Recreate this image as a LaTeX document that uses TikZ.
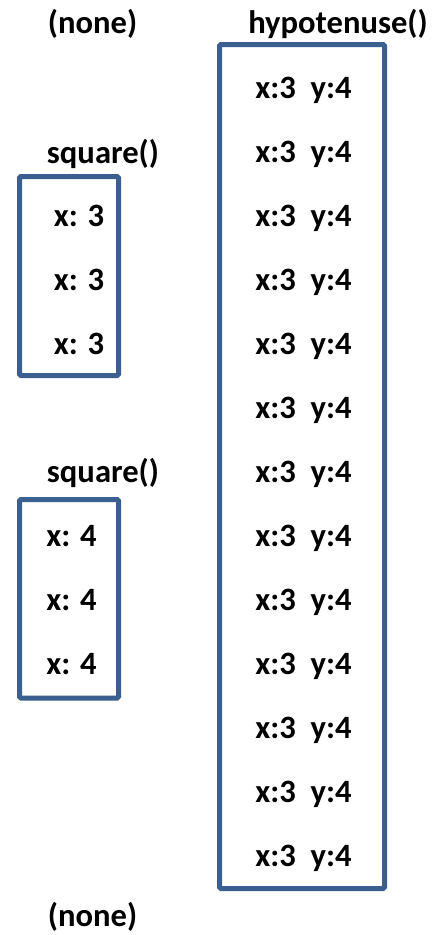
\documentclass[tikz,border=0pt]{standalone}
\usepackage{fontspec}
\setmainfont{Carlito}
\usepackage{xcolor}
\usetikzlibrary{positioning}
\definecolor{FrameBlue}{HTML}{3B5F8E}

\begin{document}
\begin{tikzpicture}[
  x=1pt,
  y=-1pt,
  every node/.style={font=\fontsize{32.6}{38}\selectfont\bfseries, inner sep=0pt},
  txt/.style={anchor=base},
  frame/.style={draw=FrameBlue, line width=5pt, rounded corners=1.5pt}
]
\useasboundingbox[fill=white] (0,0) rectangle (435,935);

% frames
\node[frame, minimum width=165pt, minimum height=844pt] (hypframe) at (302,466.5) {};
\node[frame, minimum width=99pt, minimum height=199pt] (sqframeA) at (69,276) {};
\node[frame, minimum width=99pt, minimum height=198.5pt] (sqframeB) at (69,598.75) {};

% headings
\node[txt] (nonetop) at (92.5,33) {(none)};
\node[txt] (hyplabel) at (338,33) {hypotenuse()};
\node[txt] (sqlabelA) at (103,163) {square()};
\node[txt] (sqlabelB) at (103,482) {square()};
\node[txt] (nonebottom) at (92.5,926) {(none)};

% first square() frame
\node[txt] (sqA1) at (79,226) {x: 3};
\node[txt] (sqA2) at (79,290) {x: 3};
\node[txt] (sqA3) at (79,354) {x: 3};

% second square() frame
\node[txt] (sqB1) at (71.5,546) {x: 4};
\node[txt] (sqB2) at (71.5,610) {x: 4};
\node[txt] (sqB3) at (71.5,674) {x: 4};

% hypotenuse() frame
\node[txt] (hyp1) at (303.5,98) {x:3\ \ y:4};
\node[txt] (hyp2) at (303.5,162) {x:3\ \ y:4};
\node[txt] (hyp3) at (303.5,226) {x:3\ \ y:4};
\node[txt] (hyp4) at (303.5,290) {x:3\ \ y:4};
\node[txt] (hyp5) at (303.5,354) {x:3\ \ y:4};
\node[txt] (hyp6) at (303.5,418) {x:3\ \ y:4};
\node[txt] (hyp7) at (303.5,482) {x:3\ \ y:4};
\node[txt] (hyp8) at (303.5,546) {x:3\ \ y:4};
\node[txt] (hyp9) at (303.5,610) {x:3\ \ y:4};
\node[txt] (hyp10) at (303.5,674) {x:3\ \ y:4};
\node[txt] (hyp11) at (303.5,738) {x:3\ \ y:4};
\node[txt] (hyp12) at (303.5,802) {x:3\ \ y:4};
\node[txt] (hyp13) at (303.5,866) {x:3\ \ y:4};
\end{tikzpicture}
\end{document}
